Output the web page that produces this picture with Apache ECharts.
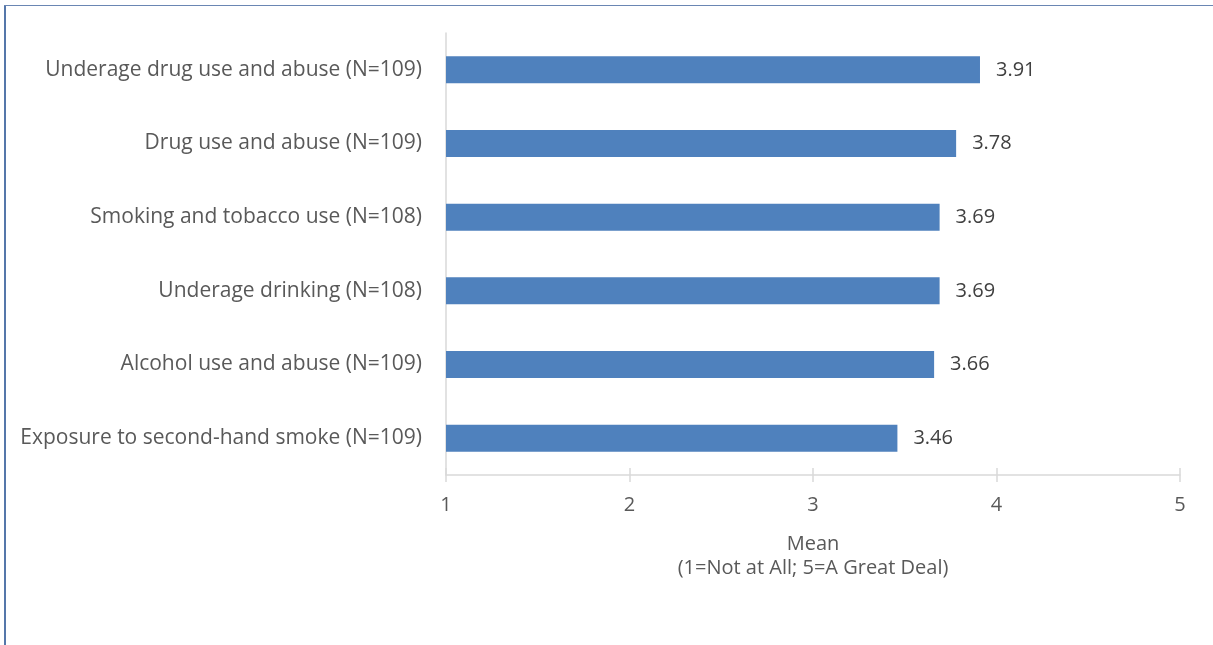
<!DOCTYPE html>
<html>
<head>
<meta charset="utf-8">
<script src="https://cdn.jsdelivr.net/npm/echarts@6/dist/echarts.min.js"></script>
<style>
html,body{margin:0;padding:0;background:#fff;}
#c{width:1213px;height:645px;}
</style>
</head>
<body>
<div id="c"></div>
<script>
const categories = [
  "Underage drug use and abuse (N=109)",
  "Drug use and abuse (N=109)",
  "Smoking and tobacco use (N=108)",
  "Underage drinking (N=108)",
  "Alcohol use and abuse (N=109)",
  "Exposure to second-hand smoke (N=109)"
];
const means = [3.91, 3.78, 3.69, 3.69, 3.66, 3.46];
const xTicks = [1, 2, 3, 4, 5];
const axisTitle = "Mean\n(1=Not at All; 5=A Great Deal)";

const FONT = "'Open Sans', 'Liberation Sans', sans-serif";
const chart = echarts.init(document.getElementById('c'));
chart.setOption({
  animation: false,
  backgroundColor: '#fff',
  graphic: [
    {type: 'rect', shape: {x: 4, y: 5, width: 2, height: 640}, style: {fill: '#5577aa'}},
    {type: 'rect', shape: {x: 4, y: 5, width: 1209, height: 1}, style: {fill: '#6a86b3'}}
  ],
  grid: {left: 446, right: 33, top: 33, bottom: 170, containLabel: false},
  xAxis: [{
    type: 'value', min: xTicks[0], max: xTicks[xTicks.length - 1], interval: 1,
    splitLine: {show: false},
    axisLine: {show: true, lineStyle: {color: '#d9d9d9', width: 1.5}},
    axisTick: {show: true, length: 7, lineStyle: {color: '#d9d9d9', width: 1.5}},
    axisLabel: {color: '#595959', fontSize: 20, fontFamily: FONT, margin: 20},
    name: axisTitle, nameLocation: 'middle', nameGap: 57,
    nameTextStyle: {color: '#595959', fontSize: 20, fontFamily: FONT, lineHeight: 24}
  }, {
    type: 'value', min: xTicks[0], max: xTicks[xTicks.length - 1], interval: 1,
    position: 'bottom',
    splitLine: {show: false},
    axisLine: {show: false},
    axisTick: {show: true, inside: true, length: 7, lineStyle: {color: '#d9d9d9', width: 1.5}},
    axisLabel: {show: false}
  }],
  yAxis: {
    type: 'category', data: categories, inverse: true,
    axisLine: {show: true, lineStyle: {color: '#d9d9d9', width: 1.5}},
    axisTick: {show: false},
    axisLabel: {color: '#595959', fontSize: 21, fontFamily: FONT, margin: 24}
  },
  series: [{
    type: 'bar', data: means, barWidth: 27,
    itemStyle: {color: '#4f81bd'},
    label: {show: true, position: 'right', distance: 16, color: '#404040', fontSize: 20, fontFamily: FONT,
      formatter: p => p.value.toFixed(2)}
  }]
});
</script>
</body>
</html>
